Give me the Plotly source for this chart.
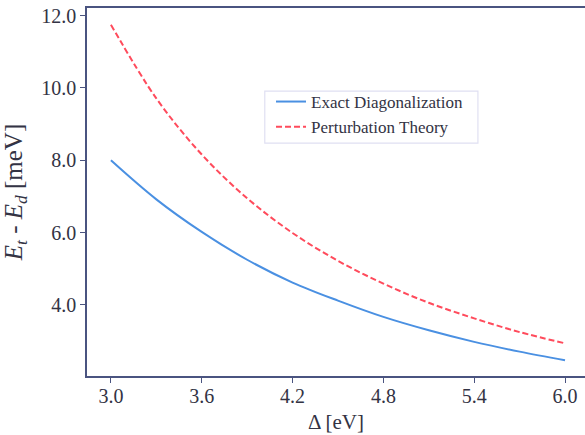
import plotly.graph_objects as go

delta = [3.0, 3.3, 3.6, 3.9, 4.2, 4.5, 4.8, 5.1, 5.4, 5.7, 6.0]
exact_diag = [8.00, 6.92, 6.02, 5.25, 4.62, 4.12, 3.67, 3.30, 2.98, 2.71, 2.47]
perturbation = [11.75, 9.71, 8.16, 6.95, 5.99, 5.22, 4.59, 4.06, 3.63, 3.25, 2.94]
xticks = [3.0, 3.6, 4.2, 4.8, 5.4, 6.0]
yticks = [4.0, 6.0, 8.0, 10.0, 12.0]

SPINE = "#4a5480"
TXT = "#333344"
FONT = "Liberation Serif"

fig = go.Figure()
fig.add_trace(go.Scatter(x=delta, y=exact_diag, mode="lines", name="Exact Diagonalization",
                         line=dict(color="#4a90e2", width=2, shape="spline")))
fig.add_trace(go.Scatter(x=delta, y=perturbation, mode="lines", name="Perturbation Theory",
                         line=dict(color="#ff4b5c", width=2, dash="6px,3px", shape="spline")))

# legend frame (light)
fig.add_shape(type="rect", xref="paper", yref="paper", x0=0.357, x1=0.785, y0=0.633, y1=0.774,
              line=dict(color="#e0e0f2", width=1.2), fillcolor="white", layer="above")

fig.update_layout(
    width=585, height=435,
    margin=dict(l=87, r=0, t=8, b=59),
    paper_bgcolor="white", plot_bgcolor="white",
    font=dict(family=FONT, color=TXT, size=20),
    showlegend=True,
    hovermode=False,
    legend=dict(x=0.3695, y=0.7935, xanchor="left", yanchor="top",
                bgcolor="rgba(0,0,0,0)", borderwidth=0,
                font=dict(family=FONT, size=17, color=TXT),
                itemwidth=30, tracegroupgap=0),
)
fig.update_xaxes(range=[2.842, 6.132], tickvals=xticks, tickformat=".1f",
                 showgrid=False, zeroline=False, showline=True, linecolor=SPINE,
                 linewidth=1.5, mirror=True, ticks="outside", ticklen=5,
                 tickcolor=SPINE, tickfont=dict(size=20, family=FONT, color=TXT),
                 ticklabelstandoff=-4,
                 title=dict(text="Δ [eV]", font=dict(size=21, family=FONT, color=TXT), standoff=9))
fig.update_yaxes(range=[2.036, 12.21], tickvals=yticks, tickformat=".1f",
                 showgrid=False, zeroline=False, showline=True, linecolor=SPINE,
                 linewidth=1.5, mirror=False, ticks="outside", ticklen=5,
                 tickcolor=SPINE, tickfont=dict(size=20, family=FONT, color=TXT),
                 ticklabeloverflow="allow",
                 title=dict(text="<i>E</i><sub><i>t</i></sub> - <i>E</i><sub><i>d</i></sub> [meV]",
                            font=dict(size=25, family=FONT, color=TXT), standoff=13))

fig.write_html("out.html", config={"displayModeBar": False},
               post_script="document.body.style.margin='0';document.body.style.overflow='hidden';")
